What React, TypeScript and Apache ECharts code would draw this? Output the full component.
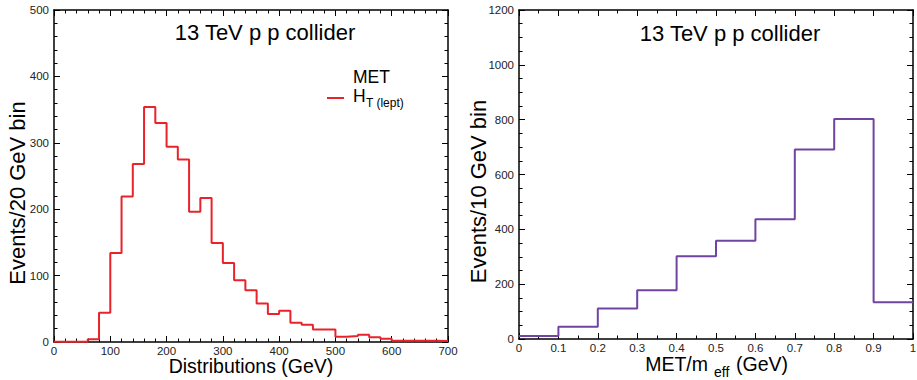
import React, { useEffect, useRef } from "react";
import * as echarts from "echarts";

// Left: 20 GeV bins from 0 to 700 GeV
const leftBinWidth = 20;
const leftMax = 700;
const leftValues = [
  0.5, 0.5, 0.5, 4, 44, 134, 219, 268, 354, 330, 294, 275, 196, 217, 149, 119,
  93, 78, 58, 42, 47, 29, 26, 19, 19, 8, 9, 11, 7, 5, 2, 2, 2, 2, 1.5,
];
// Right: bins of 0.1 from 0 to 1
const rightBinWidth = 0.1;
const rightMax = 1;
const rightValues = [11, 45, 111, 178, 302, 358, 437, 691, 802, 134];

const titleText = "13 TeV p p collider";
const leftXName = "Distributions (GeV)";
const leftYName = "Events/20 GeV bin";
const rightYName = "Events/10 GeV bin";

const FONT = "'Liberation Sans', Arial, Helvetica, sans-serif";
const RED = "#e8242a";
const PURPLE = "#7044a0";

function stepData(values: number[], width: number, max: number) {
  const pts: number[][] = values.map((v, i) => [+(i * width).toFixed(6), v]);
  pts.push([max, values[values.length - 1]]);
  return pts;
}

function axisPair(
  gridIndex: number,
  min: number,
  max: number,
  interval: number,
  minorSplit: number,
  isX: boolean,
  name?: string,
  nameGap?: number,
  nameSize?: number,
  namePadding?: number[]
) {
  const common: any = {
    type: "value",
    gridIndex,
    min,
    max,
    interval,
    axisLine: { show: true, onZero: false, lineStyle: { color: "#000", width: 1.5 } },
    axisTick: { show: true, inside: true, length: 6, lineStyle: { color: "#000", width: 1 } },
    minorTick: { show: true, splitNumber: minorSplit, length: 3.5, lineStyle: { color: "#000", width: 1 } },
    splitLine: { show: false },
    minorSplitLine: { show: false },
  };
  const main = {
    ...common,
    position: isX ? "bottom" : "left",
    axisLabel: {
      show: true,
      color: "#222",
      fontSize: 11.5,
      lineHeight: 11,
      fontFamily: FONT,
      margin: isX ? 3 : 5,
      formatter: (v: number) => String(+v.toFixed(6)),
    },
    name: name || "",
    nameLocation: "middle",
    nameGap: nameGap || 0,
    nameMoveOverlap: false,
    nameTextStyle: {
      fontSize: nameSize || 19,
      lineHeight: isX ? 16 : undefined,
      fontFamily: FONT,
      color: "#000",
      padding: namePadding || 0,
    },
  };
  const mirror = {
    ...common,
    position: isX ? "top" : "right",
    axisLabel: { show: false },
    name: "",
  };
  return [main, mirror];
}

export default function App() {
  const ref = useRef<HTMLDivElement>(null);

  useEffect(() => {
    if (!ref.current) return;
    const chart = echarts.init(ref.current, null, { renderer: "svg" });

    const lx = axisPair(0, 0, leftMax, 100, 5, true, leftXName, 16, 19.5);
    const ly = axisPair(0, 0, 500, 100, 5, false, leftYName, 26, 22, [0, 34, 0, 0]);
    const rx = axisPair(1, 0, rightMax, 0.1, 2, true, "", 0, 19);
    const ry = axisPair(1, 0, 1200, 200, 4, false, rightYName, 29.5, 22, [0, 34, 0, 0]);

    chart.setOption({
      animation: false,
      backgroundColor: "#fff",
      grid: [
        { left: 54, top: 10, width: 394, height: 332, containLabel: false, outerBoundsMode: "none" },
        { left: 519, top: 10, width: 394, height: 329, containLabel: false, outerBoundsMode: "none" },
      ],
      xAxis: [...lx, ...rx],
      yAxis: [...ly, ...ry],
      series: [
        {
          type: "line",
          xAxisIndex: 0,
          yAxisIndex: 0,
          step: "end",
          symbol: "none",
          data: stepData(leftValues, leftBinWidth, leftMax),
          lineStyle: { color: RED, width: 2 },
          itemStyle: { color: RED },
        },
        {
          type: "line",
          xAxisIndex: 2,
          yAxisIndex: 2,
          step: "end",
          symbol: "none",
          data: stepData(rightValues, rightBinWidth, rightMax),
          lineStyle: { color: PURPLE, width: 2 },
          itemStyle: { color: PURPLE },
        },
      ],
      graphic: [
        {
          type: "text",
          x: 265,
          y: 32,
          style: { text: titleText, font: `22px ${FONT}`, fill: "#000", align: "center", verticalAlign: "middle" },
        },
        {
          type: "text",
          x: 730,
          y: 33,
          style: { text: titleText, font: `22px ${FONT}`, fill: "#000", align: "center", verticalAlign: "middle" },
        },
        // legend
        {
          type: "line",
          shape: { x1: 327, y1: 98, x2: 344, y2: 98 },
          style: { stroke: RED, lineWidth: 2 },
        },
        {
          type: "text",
          x: 353,
          y: 77,
          style: { text: "MET", font: `17.5px ${FONT}`, lineHeight: 15, fill: "#000", align: "left", verticalAlign: "middle" },
        },
        {
          type: "text",
          x: 353,
          y: 95.5,
          style: { text: "H", font: `17.5px ${FONT}`, lineHeight: 15, fill: "#000", align: "left", verticalAlign: "middle" },
        },
        {
          type: "text",
          x: 366,
          y: 102.5,
          style: { text: "T (lept)", font: `12px ${FONT}`, lineHeight: 11, fill: "#000", align: "left", verticalAlign: "middle" },
        },
        // right x axis name with subscript
        {
          type: "text",
          x: 708,
          y: 364,
          style: { text: "MET/m", font: `19.5px ${FONT}`, lineHeight: 16, fill: "#000", align: "right", verticalAlign: "middle" },
        },
        {
          type: "text",
          x: 714,
          y: 372,
          style: { text: "eff", font: `14px ${FONT}`, lineHeight: 12, fill: "#000", align: "left", verticalAlign: "middle" },
        },
        {
          type: "text",
          x: 736,
          y: 364,
          style: { text: "(GeV)", font: `19.5px ${FONT}`, lineHeight: 16, fill: "#000", align: "left", verticalAlign: "middle" },
        },
      ],
    });

    return () => chart.dispose();
  }, []);

  return (
    <div
      ref={ref}
      style={{ position: "fixed", left: 0, top: 0, width: 917, height: 380, background: "#fff" }}
    />
  );
}
